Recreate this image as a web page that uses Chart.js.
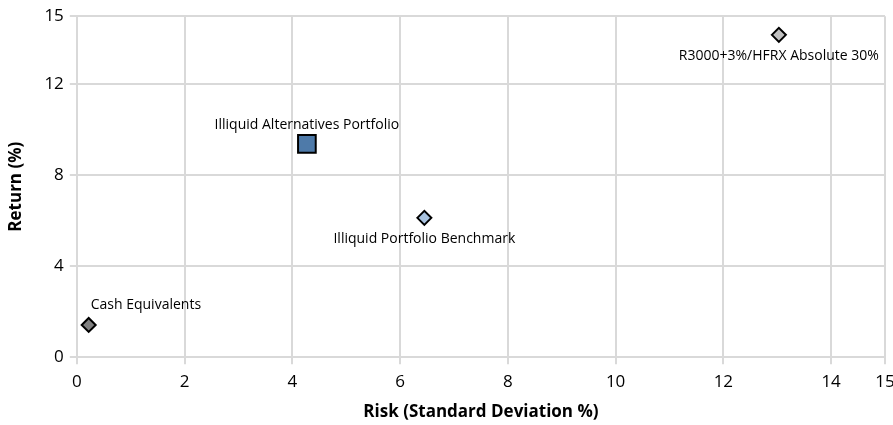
<!DOCTYPE html>
<html>
<head>
<meta charset="utf-8">
<script src="https://cdn.jsdelivr.net/npm/chart.js@4"></script>
<style>
    html, body { margin: 0; padding: 0; background: #ffffff; overflow: hidden; }
    #wrap { width: 893px; height: 425px; position: relative; }
</style>
</head>
<body>
<div id="wrap"><canvas id="grafico"></canvas></div>
<script>
const names = [
    "Cash Equivalents",
    "Illiquid Alternatives Portfolio",
    "Illiquid Portfolio Benchmark",
    "R3000+3%/HFRX Absolute 30%"
];
const risk = [0.22, 4.27, 6.45, 13.03];
const returns = [1.42, 9.38, 6.13, 14.18];
const fills = ["#808080", "#4E7AA9", "#A9C3E0", "#C0C0C0"];
const shapes = ["rectRot", "rect", "rectRot", "rectRot"];
const labelPos = ["aboveRight", "above", "below", "below"];

const xTicks = [0, 2, 4, 6, 8, 10, 12, 14, 15];
const yTicks = [0, 4, 8, 12, 15];

const FONT = "'Open Sans', sans-serif";
const GRID = "#D9D9D9";

const pointLabels = {
    id: "pointLabels",
    afterDatasetsDraw(chart) {
        const ctx = chart.ctx;
        const meta = chart.getDatasetMeta(0);
        ctx.save();
        ctx.font = "14px " + FONT;
        ctx.fillStyle = "#000000";
        ctx.textBaseline = "middle";
        meta.data.forEach(function (pt, i) {
            let x = pt.x;
            let y = pt.y;
            if (labelPos[i] === "aboveRight") {
                ctx.textAlign = "left";
                x += 2;
                y -= 20;
            } else if (labelPos[i] === "above") {
                ctx.textAlign = "center";
                y -= 19;
            } else {
                ctx.textAlign = "center";
                y += 21;
            }
            ctx.fillText(names[i], x, y);
        });
        ctx.restore();
    }
};

new Chart(document.getElementById("grafico"), {
    type: "scatter",
    data: {
        datasets: [{
            label: "Risk / Return",
            data: risk.map(function (r, i) { return { x: r, y: returns[i] }; }),
            backgroundColor: fills,
            borderColor: "#000000",
            borderWidth: 2,
            pointStyle: shapes,
            pointRadius: [7, 12.5, 7, 7],
            pointHoverRadius: [7, 12.5, 7, 7]
        }]
    },
    options: {
        responsive: true,
        maintainAspectRatio: false,
        animation: false,
        layout: { autoPadding: false, padding: { left: 6, right: 8, top: 16, bottom: 3 } },
        plugins: {
            legend: { display: false },
            tooltip: { enabled: false }
        },
        scales: {
            x: {
                type: "linear",
                min: 0,
                max: 15,
                afterBuildTicks: function (axis) {
                    axis.ticks = xTicks.map(function (v) { return { value: v }; });
                },
                afterFit: function (axis) {
                    // let the last label ("15") hang over the edge, like the original
                    axis.paddingRight = 0;
                },
                grid: { color: GRID, lineWidth: 2, tickLength: 7 },
                border: { color: GRID, width: 2 },
                ticks: { color: "#000000", font: { family: FONT, size: 17 }, padding: 8, maxRotation: 0 },
                title: {
                    display: true,
                    text: "Risk (Standard Deviation %)",
                    color: "#000000",
                    font: { family: FONT, size: 17, weight: "bold" },
                    padding: { top: 1, bottom: 0 }
                }
            },
            y: {
                type: "linear",
                min: 0,
                max: 15,
                afterBuildTicks: function (axis) {
                    axis.ticks = yTicks.map(function (v) { return { value: v }; });
                },
                grid: { color: GRID, lineWidth: 2, tickLength: 7 },
                border: { color: GRID, width: 2 },
                ticks: { color: "#000000", font: { family: FONT, size: 17 }, padding: 6 },
                title: {
                    display: true,
                    text: "Return (%)",
                    color: "#000000",
                    font: { family: FONT, size: 17, weight: "bold" },
                    padding: { top: 0, bottom: 12 }
                }
            }
        }
    },
    plugins: [pointLabels]
});
</script>
</body>
</html>
